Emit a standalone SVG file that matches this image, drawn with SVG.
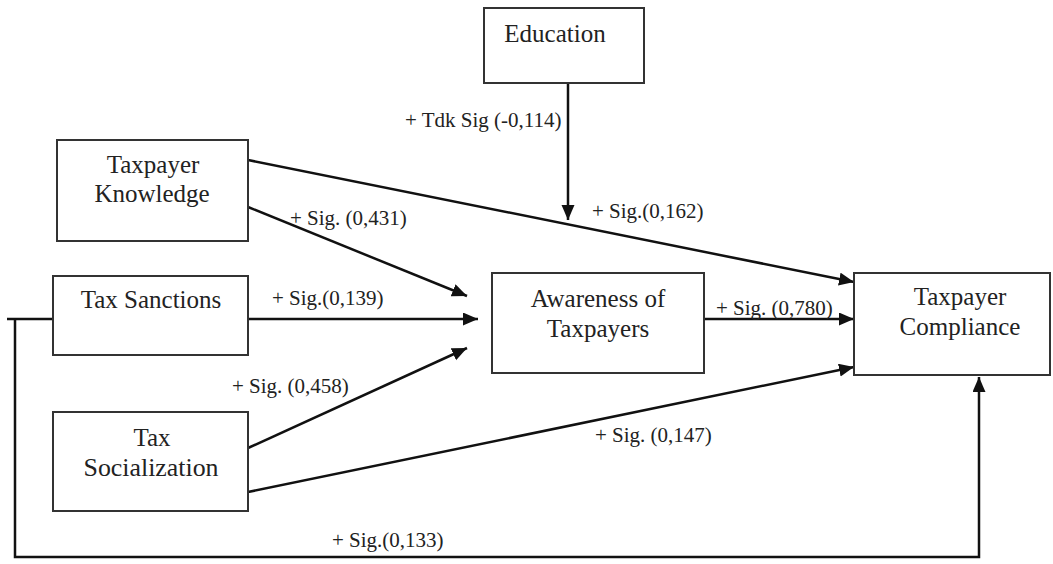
<svg xmlns="http://www.w3.org/2000/svg" width="1053" height="564" viewBox="0 0 1053 564" font-family="Liberation Serif, Times New Roman, DejaVu Serif, serif">
<defs>
<style>
text{font-family:'Liberation Serif','Times New Roman','DejaVu Serif',serif}
.box{fill:#fff;stroke:#333;stroke-width:2}
.nt{font-size:25px;fill:#222;text-anchor:middle}
.lb{font-size:21px;fill:#222}
.cn{fill:none;stroke:#111;stroke-width:2.5}
</style>
<marker id="ah" markerUnits="userSpaceOnUse" markerWidth="16" markerHeight="14" refX="15" refY="6.5" orient="auto">
<path d="M0,0 L15,6.5 L0,13 z" fill="#111"/>
</marker>
</defs>
<rect width="1053" height="564" fill="#fff"/>
<g id="connectors">
<line class="cn" x1="568" y1="83" x2="568" y2="220" marker-end="url(#ah)"/>
<line class="cn" x1="248" y1="160" x2="854" y2="282" marker-end="url(#ah)"/>
<line class="cn" x1="248" y1="207" x2="467" y2="296" marker-end="url(#ah)"/>
<line class="cn" x1="248" y1="319" x2="478" y2="319" marker-end="url(#ah)"/>
<line class="cn" x1="248" y1="448" x2="467" y2="348" marker-end="url(#ah)"/>
<line class="cn" x1="248" y1="492" x2="854" y2="367" marker-end="url(#ah)"/>
<line class="cn" x1="704" y1="319" x2="854" y2="319" marker-end="url(#ah)"/>
<polyline class="cn" points="7,319 53,319"/>
<polyline class="cn" points="15,319 15,557 979,557 979,377" marker-end="url(#ah)"/>
<text class="lb" x="405" y="127">+ Tdk Sig (-0,114)</text>
<text class="lb" x="592" y="218">+ Sig.(0,162)</text>
<text class="lb" x="290" y="225">+ Sig. (0,431)</text>
<text class="lb" x="272" y="305">+ Sig.(0,139)</text>
<text class="lb" x="716" y="315">+ Sig. (0,780)</text>
<text class="lb" x="232" y="393">+ Sig. (0,458)</text>
<text class="lb" x="595" y="442">+ Sig. (0,147)</text>
<text class="lb" x="332" y="547">+ Sig.(0,133)</text>
</g>
<g id="education">
<rect class="box" x="484" y="8" width="160" height="75"/>
<text class="nt" x="555" y="42">Education</text>
</g>
<g id="knowledge">
<rect class="box" x="57" y="140" width="191" height="101"/>
<text class="nt" x="153" y="173">Taxpayer</text>
<text class="nt" x="152" y="202">Knowledge</text>
</g>
<g id="sanctions">
<rect class="box" x="53" y="276" width="195" height="79"/>
<text class="nt" x="151" y="308">Tax Sanctions</text>
</g>
<g id="socialization">
<rect class="box" x="53" y="412" width="195" height="99"/>
<text class="nt" x="152" y="446">Tax</text>
<text class="nt" x="151" y="476" textLength="135" lengthAdjust="spacingAndGlyphs">Socialization</text>
</g>
<g id="awareness">
<rect class="box" x="492" y="273" width="212" height="100"/>
<text class="nt" x="598" y="307">Awareness of</text>
<text class="nt" x="598" y="337">Taxpayers</text>
</g>
<g id="compliance">
<rect class="box" x="854" y="273" width="196" height="102"/>
<text class="nt" x="960" y="305">Taxpayer</text>
<text class="nt" x="960" y="335">Compliance</text>
</g>
</svg>
